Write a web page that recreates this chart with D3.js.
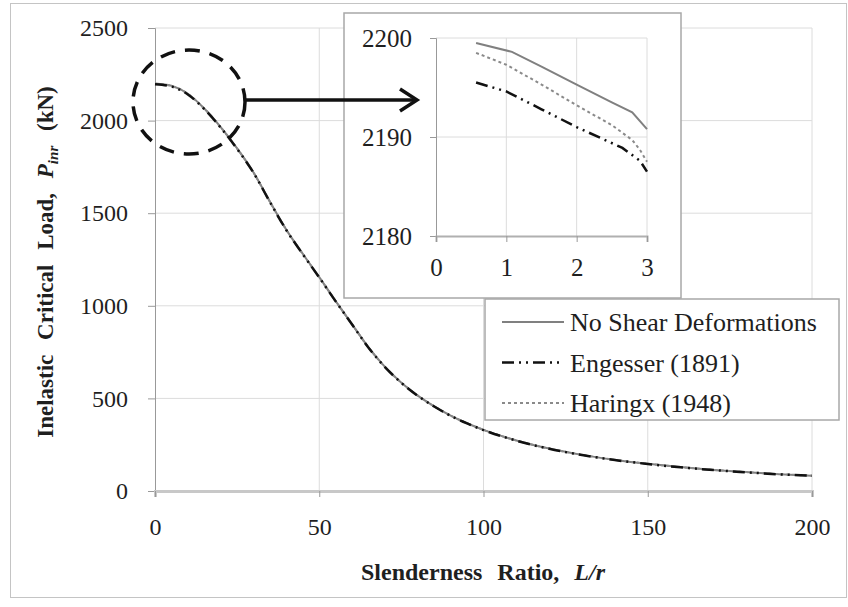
<!DOCTYPE html>
<html>
<head>
<meta charset="utf-8">
<script src="https://cdn.jsdelivr.net/npm/d3@7"></script>
<style>
  html, body { margin: 0; padding: 0; background: #fff; }
  svg { display: block; }
  text { font-family: "Liberation Serif", "Tinos", "Times New Roman", "DejaVu Serif", serif; fill: #1f1f1f; }
</style>
</head>
<body>
<svg id="chart" width="848" height="607"></svg>
<script>
// ---------------- data ----------------
const slenderness = [0, 5, 10, 15, 20, 25, 30, 35, 40, 45, 50, 55, 60, 65, 70, 75, 80, 85, 90, 95, 100, 110, 120, 130, 140, 150, 160, 170, 180, 190, 200];
const noShearMain = [2200, 2188, 2145, 2065, 1965, 1850, 1720, 1562, 1410, 1280, 1155, 1025, 900, 775, 670, 585, 515, 457, 407, 366, 330, 273, 229, 195, 168, 147, 129, 114, 102, 91, 83];
const engesserMain = [2196, 2184, 2141, 2062, 1962, 1847, 1718, 1560, 1408, 1278, 1153, 1024, 899, 774, 669, 584, 514, 456, 406, 365, 329, 272, 228, 194, 167, 146, 128, 113, 101, 90, 82];
const haringxMain = [2199, 2187, 2144, 2064, 1964, 1849, 1719, 1561, 1409, 1279, 1154, 1025, 900, 775, 670, 585, 515, 457, 407, 366, 330, 273, 229, 195, 168, 147, 129, 114, 102, 91, 83];

const insetNoShearX = [0.57, 1.08, 1.5, 2.0, 2.5, 2.79, 3.0];
const insetNoShearY = [2199.5, 2198.6, 2197.1, 2195.3, 2193.5, 2192.5, 2190.8];
const insetEngesserX = [0.57, 1.0, 1.5, 2.0, 2.65, 2.9, 3.0];
const insetEngesserY = [2195.5, 2194.6, 2192.8, 2191.0, 2188.9, 2187.6, 2186.5];
const insetHaringxX = [0.57, 1.0, 1.5, 2.0, 2.5, 2.79, 2.9, 3.0];
const insetHaringxY = [2198.5, 2197.3, 2195.3, 2193.2, 2191.2, 2189.7, 2188.7, 2187.5];

const xTicks = [0, 50, 100, 150, 200];
const yTicks = [0, 500, 1000, 1500, 2000, 2500];
const insetXTicks = [0, 1, 2, 3];
const insetYTicks = [2180, 2190, 2200];

const seriesNames = ["No Shear Deformations", "Engesser (1891)", "Haringx (1948)"];

// ---------------- styles ----------------
const FONT = '"Liberation Serif", "Tinos", "Times New Roman", "DejaVu Serif", serif';
const styles = [
  { stroke: "#808080", width: 2, dash: null },
  { stroke: "#111", width: 2.5, dash: "12,5,2,5,2,5" },
  { stroke: "#8a8a8a", width: 2, dash: "3,3" }
];

const svg = d3.select("#chart");

// outer frame
svg.append("rect").attr("x", 10.5).attr("y", 3.5).attr("width", 836).attr("height", 594)
  .attr("fill", "#fff").attr("stroke", "#c4c4c4").attr("stroke-width", 1);

// ---------------- main chart ----------------
const x = d3.scaleLinear().domain([0, 200]).range([155, 812]);
const y = d3.scaleLinear().domain([0, 2500]).range([491, 28]);

const grid = svg.append("g");
grid.selectAll("line.h").data(yTicks.filter(d => d > 0)).join("line")
  .attr("x1", x(0)).attr("x2", x(200)).attr("y1", d => y(d)).attr("y2", d => y(d))
  .attr("stroke", "#dcdcdc").attr("stroke-width", 1);
grid.selectAll("line.v").data(xTicks.filter(d => d > 0)).join("line")
  .attr("x1", d => x(d)).attr("x2", d => x(d)).attr("y1", y(0)).attr("y2", y(2500))
  .attr("stroke", "#dcdcdc").attr("stroke-width", 1);

function styleAxis(g, fontSize) {
  g.attr("font-family", FONT);
  g.selectAll("text").attr("font-size", fontSize).attr("fill", "#1f1f1f")
    .style("font-family", FONT);
  g.selectAll(".tick line").attr("stroke", "#999");
}

const yAxis = svg.append("g").attr("transform", `translate(${x(0)},0)`)
  .call(d3.axisLeft(y).tickValues(yTicks).tickSize(7).tickPadding(20).tickFormat(d3.format("d")));
yAxis.select(".domain").attr("stroke", "#999").attr("stroke-width", 1);
styleAxis(yAxis, 24);

const xAxis = svg.append("g").attr("transform", `translate(0,${y(0)})`)
  .call(d3.axisBottom(x).tickValues(xTicks).tickSize(6).tickPadding(21).tickFormat(d3.format("d")));
xAxis.select(".domain").attr("stroke", "#c8c8c8").attr("stroke-width", 3);
styleAxis(xAxis, 24);

const mainLine = vals => d3.line().x((d, i) => x(slenderness[i])).y(d => y(d)).curve(d3.curveMonotoneX)(vals);
[[noShearMain, styles[0]], [haringxMain, styles[2]], [engesserMain, styles[1]]].forEach(([vals, st]) => {
  svg.append("path").attr("d", mainLine(vals)).attr("fill", "none")
    .attr("stroke", st.stroke).attr("stroke-width", st.width)
    .attr("stroke-dasharray", st.dash);
});

// axis titles
const yTitle = svg.append("text")
  .attr("transform", "translate(53,262) rotate(-90)")
  .attr("text-anchor", "middle").attr("font-weight", "bold").attr("font-size", 23)
  .attr("word-spacing", 9);
yTitle.append("tspan").text("Inelastic Critical Load, ");
yTitle.append("tspan").attr("font-style", "italic").text("P");
yTitle.append("tspan").attr("font-style", "italic").attr("font-size", 15).attr("dy", 5).text("inr");
yTitle.append("tspan").attr("dy", -5).text(" (kN)");

const xTitle = svg.append("text")
  .attr("x", 483).attr("y", 580).attr("text-anchor", "middle")
  .attr("font-weight", "bold").attr("font-size", 24).attr("word-spacing", 9);
xTitle.append("tspan").text("Slenderness Ratio, ");
xTitle.append("tspan").attr("font-style", "italic").text("L/r");

// dashed ellipse
svg.append("ellipse").attr("cx", 189).attr("cy", 102).attr("rx", 56).attr("ry", 52)
  .attr("fill", "none").attr("stroke", "#111").attr("stroke-width", 3.5)
  .attr("stroke-dasharray", "15,10");

// ---------------- inset ----------------
svg.append("rect").attr("x", 344).attr("y", 13).attr("width", 337).attr("height", 285)
  .attr("fill", "#fff").attr("stroke", "#a8a8a8").attr("stroke-width", 1.5);

const xi = d3.scaleLinear().domain([0, 3]).range([436, 647]);
const yi = d3.scaleLinear().domain([2180, 2200]).range([236, 38]);

const igrid = svg.append("g");
igrid.selectAll("line.h").data(insetYTicks.filter(d => d > 2180)).join("line")
  .attr("x1", xi(0)).attr("x2", xi(3)).attr("y1", d => yi(d)).attr("y2", d => yi(d))
  .attr("stroke", "#dcdcdc");
igrid.selectAll("line.v").data(insetXTicks.filter(d => d > 0)).join("line")
  .attr("x1", d => xi(d)).attr("x2", d => xi(d)).attr("y1", yi(2180)).attr("y2", yi(2200))
  .attr("stroke", "#dcdcdc");

const iyAxis = svg.append("g").attr("transform", `translate(${xi(0)},0)`)
  .call(d3.axisLeft(yi).tickValues(insetYTicks).tickSize(6).tickPadding(18).tickFormat(d3.format("d")));
iyAxis.select(".domain").attr("stroke", "#999");
styleAxis(iyAxis, 25);

const ixAxis = svg.append("g").attr("transform", `translate(0,${yi(2180)})`)
  .call(d3.axisBottom(xi).tickValues(insetXTicks).tickSize(6).tickPadding(16).tickFormat(d3.format("d")));
ixAxis.select(".domain").attr("stroke", "#b0b0b0").attr("stroke-width", 2);
styleAxis(ixAxis, 25);

const insetLine = (xs, ys) => d3.line().x((d, i) => xi(xs[i])).y(d => yi(d))(ys);
[[insetNoShearX, insetNoShearY, styles[0]],
 [insetHaringxX, insetHaringxY, styles[2]],
 [insetEngesserX, insetEngesserY, styles[1]]].forEach(([xs, ys, st]) => {
  svg.append("path").attr("d", insetLine(xs, ys)).attr("fill", "none")
    .attr("stroke", st.stroke).attr("stroke-width", st.width)
    .attr("stroke-dasharray", st.dash);
});

// arrow (on top of inset)
svg.append("line").attr("x1", 246).attr("y1", 100).attr("x2", 416).attr("y2", 100)
  .attr("stroke", "#111").attr("stroke-width", 3.5);
svg.append("path").attr("d", "M400,89 L417,100 L400,111")
  .attr("fill", "none").attr("stroke", "#111").attr("stroke-width", 3.5)
  .attr("stroke-linejoin", "miter");

// ---------------- legend ----------------
const legend = svg.append("g");
legend.append("rect").attr("x", 485).attr("y", 299).attr("width", 354).attr("height", 121)
  .attr("fill", "#fff").attr("stroke", "#a8a8a8").attr("stroke-width", 1.5);
const rowY = d3.scalePoint().domain(seriesNames).range([322, 403]);
seriesNames.forEach((name, i) => {
  const st = styles[i];
  legend.append("line").attr("x1", 502).attr("x2", 564)
    .attr("y1", rowY(name)).attr("y2", rowY(name))
    .attr("stroke", st.stroke).attr("stroke-width", st.width)
    .attr("stroke-dasharray", st.dash);
  legend.append("text").attr("x", 570).attr("y", rowY(name)).attr("dy", "0.35em")
    .attr("font-size", 26).text(name);
});
</script>
</body>
</html>
